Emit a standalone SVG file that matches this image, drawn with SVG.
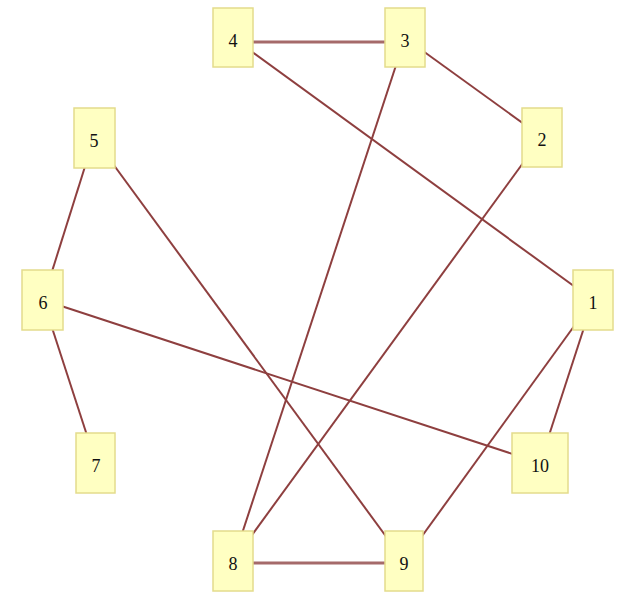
<svg xmlns="http://www.w3.org/2000/svg" width="621" height="594" viewBox="0 0 621 594">
<style>
.e{stroke:#8e3f3f;stroke-width:2;fill:none}
.h{stroke:#a56a6a;stroke-width:3}
.n rect{fill:#ffffc2;stroke:#e4dc8c;stroke-width:1.5}
.n text{font-family:"Liberation Serif",serif;font-size:18px;fill:#111;text-anchor:middle}
</style>
<rect width="621" height="594" fill="#fff"/>
<g id="edges">
<line class="e h" x1="233" y1="42" x2="405" y2="42"/>
<line class="e" x1="405" y1="38" x2="542" y2="137"/>
<line class="e" x1="233" y1="38" x2="593" y2="300"/>
<line class="e" x1="405" y1="38" x2="233" y2="561"/>
<line class="e" x1="542" y1="137" x2="233" y2="561"/>
<line class="e" x1="94" y1="138" x2="43" y2="300"/>
<line class="e" x1="94" y1="138" x2="404" y2="561"/>
<line class="e" x1="43" y1="300" x2="96" y2="463"/>
<line class="e" x1="43" y1="300" x2="540" y2="463"/>
<line class="e" x1="593" y1="300" x2="540" y2="463"/>
<line class="e" x1="593" y1="300" x2="404" y2="561"/>
<line class="e h" x1="233" y1="563" x2="404" y2="563"/>
</g>
<g id="n1" class="n"><rect x="573" y="270" width="40" height="60"/><text x="593" y="309">1</text></g>
<g id="n2" class="n"><rect x="522" y="108" width="40" height="59"/><text x="542" y="146">2</text></g>
<g id="n3" class="n"><rect x="385" y="8" width="40" height="59"/><text x="405" y="47">3</text></g>
<g id="n4" class="n"><rect x="213" y="8" width="40" height="59"/><text x="233" y="47">4</text></g>
<g id="n5" class="n"><rect x="74" y="108" width="41" height="60"/><text x="94" y="147">5</text></g>
<g id="n6" class="n"><rect x="22" y="270" width="41" height="60"/><text x="43" y="309">6</text></g>
<g id="n7" class="n"><rect x="76" y="433" width="39" height="60"/><text x="96" y="472">7</text></g>
<g id="n10" class="n"><rect x="512" y="433" width="56" height="60"/><text x="540" y="472">10</text></g>
<g id="n8" class="n"><rect x="213" y="531" width="40" height="60"/><text x="233" y="570">8</text></g>
<g id="n9" class="n"><rect x="385" y="531" width="38" height="60"/><text x="404" y="570">9</text></g>
</svg>
